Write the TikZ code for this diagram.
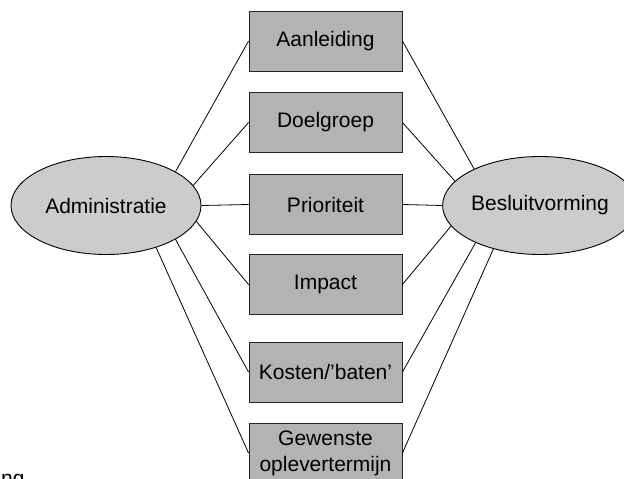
\documentclass[tikz,border=0pt]{standalone}
\usepackage{fontspec}
\setmainfont{Liberation Sans}
\usetikzlibrary{shapes.geometric}
\definecolor{ellfill}{HTML}{CCCCCC}
\definecolor{boxfill}{HTML}{B3B3B3}
\begin{document}
\begin{tikzpicture}[x=1pt,y=-1pt,
  every node/.style={font=\fontsize{21}{26}\selectfont},
  oval/.style={ellipse,draw=black,line width=0.9pt,fill=ellfill,minimum width=190pt,minimum height=98pt,inner sep=0pt},
  itembox/.style={rectangle,draw=black!85,line width=0.9pt,fill=boxfill,minimum width=153pt,minimum height=60pt,inner sep=0pt,align=center},
  conn/.style={draw=black,line width=0.8pt}]
\useasboundingbox (0,0) rectangle (624,479);
\clip (0,0) rectangle (624,479);
\node[oval] (adm) at (106,205.5) {Administratie};
\node[oval] (bes) at (540,205.5) {Besluitvorming};
\node[itembox] (aan) at (325.5,41) {Aanleiding};
\node[itembox] (doel) at (325.5,122.5) {Doelgroep};
\node[itembox] (prio) at (325.5,204.5) {Prioriteit};
\node[itembox] (imp) at (325.5,284.5) {Impact};
\node[itembox] (kos) at (325.5,372) {Kosten/'baten'};
\node[itembox] (gew) at (325.5,453) {Gewenste\\oplevertermijn};
\node[anchor=base west,inner sep=0pt] (ng) at (1,485) {ng};
% left connectors
\draw[conn] (adm.26) -- (aan.west);
\draw[conn] (adm.13.6) -- (doel.west);
\draw[conn] (adm.east) -- (prio.west);
\draw[conn] (adm.-10.6) -- (imp.west);
\draw[conn] (adm.-26.2) -- (kos.west);
\draw[conn] (adm.-40.2) -- (gew.west);
% right connectors
\draw[conn] (bes.151.7) -- (aan.east);
\draw[conn] (bes.164.9) -- (doel.east);
\draw[conn] (bes.west) -- (prio.east);
\draw[conn] (bes.193.6) -- (imp.east);
\draw[conn] (bes.210.4) -- (kos.east);
\draw[conn] (bes.223.1) -- (gew.east);
\end{tikzpicture}
\end{document}
